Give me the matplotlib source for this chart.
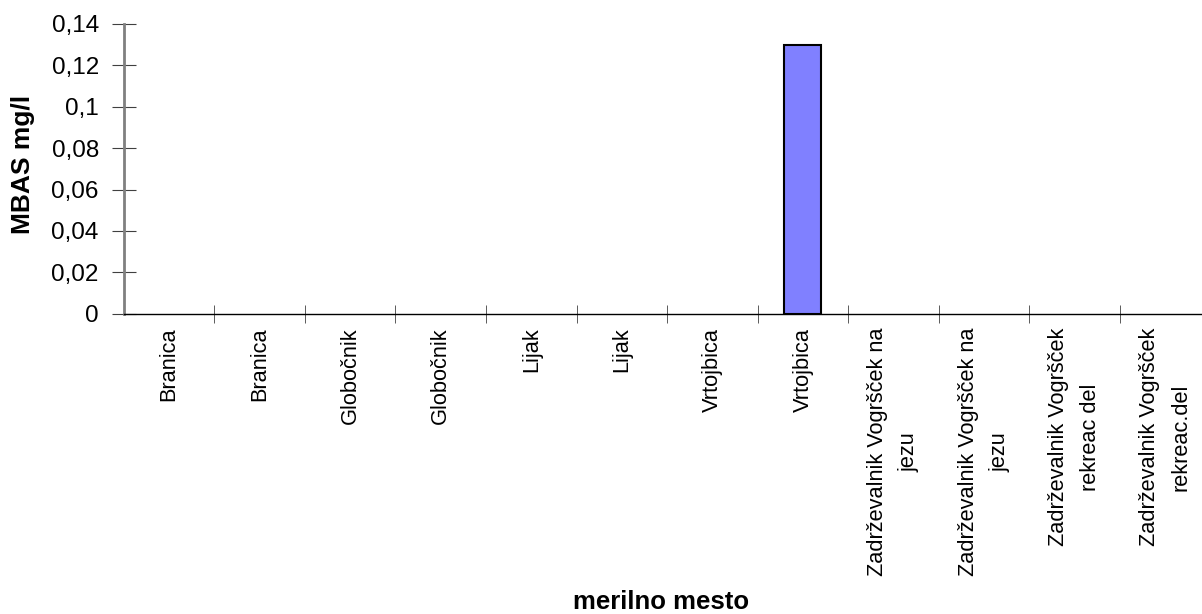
import matplotlib.pyplot as plt
import numpy as np
from matplotlib.ticker import FuncFormatter

plt.rcParams['font.family'] = ['Liberation Sans', 'DejaVu Sans']

mesta = ["Branica", "Branica", "Globočnik", "Globočnik", "Lijak", "Lijak",
         "Vrtojbica", "Vrtojbica",
         "Zadrževalnik Vogršček na\njezu", "Zadrževalnik Vogršček na\njezu",
         "Zadrževalnik Vogršček\nrekreac del", "Zadrževalnik Vogršček\nrekreac.del"]
mbas = [0, 0, 0, 0, 0, 0, 0, 0.13, 0, 0, 0, 0]
y_ticks = [0, 0.02, 0.04, 0.06, 0.08, 0.1, 0.12, 0.14]

fig = plt.figure(figsize=(12.02, 6.14), dpi=100)
ax = fig.add_axes([0.103, 0.489, 0.904, 0.472])

x = np.arange(len(mesta))
# empty (zero) values get no outline, like the original
lw = [1.5 if v > 0 else 0 for v in mbas]
ax.bar(x, mbas, width=0.41, color='#8080FF', edgecolor='black', linewidth=lw, zorder=3)

ax.set_xlim(-0.5, len(mesta) - 0.5)
ax.set_ylim(0, 0.14)
ax.set_yticks(y_ticks)
ax.yaxis.set_major_formatter(FuncFormatter(lambda v, p: ('%g' % round(v, 2)).replace('.', ',')))
ax.set_xticks(x)
ax.set_xticklabels(mesta, rotation=90, ha='center', va='top', multialignment='center',
                   linespacing=1.65)
ax.set_xticks(np.arange(0.5, len(mesta) - 0.5, 1), minor=True)

ax.tick_params(axis='x', which='major', length=0, pad=10, labelsize=15.7)
ax.tick_params(axis='x', which='minor', direction='inout', length=13, color='#404040')
ax.tick_params(axis='y', direction='inout', length=17, color='#404040', labelsize=17.5, pad=9.5)

for s in ['top', 'right']:
    ax.spines[s].set_visible(False)
ax.spines['left'].set_color('#808080')
ax.spines['left'].set_linewidth(2)
ax.spines['bottom'].set_color('black')
ax.spines['bottom'].set_linewidth(1)

fig.text(0.55, 0.0, 'merilno mesto', ha='center', va='bottom', fontsize=18.5, fontweight='bold')
fig.text(0.019, 0.733, 'MBAS mg/l', ha='center', va='center', rotation=90, fontsize=19,
         fontweight='bold')

fig.savefig('out.png', dpi=100)
